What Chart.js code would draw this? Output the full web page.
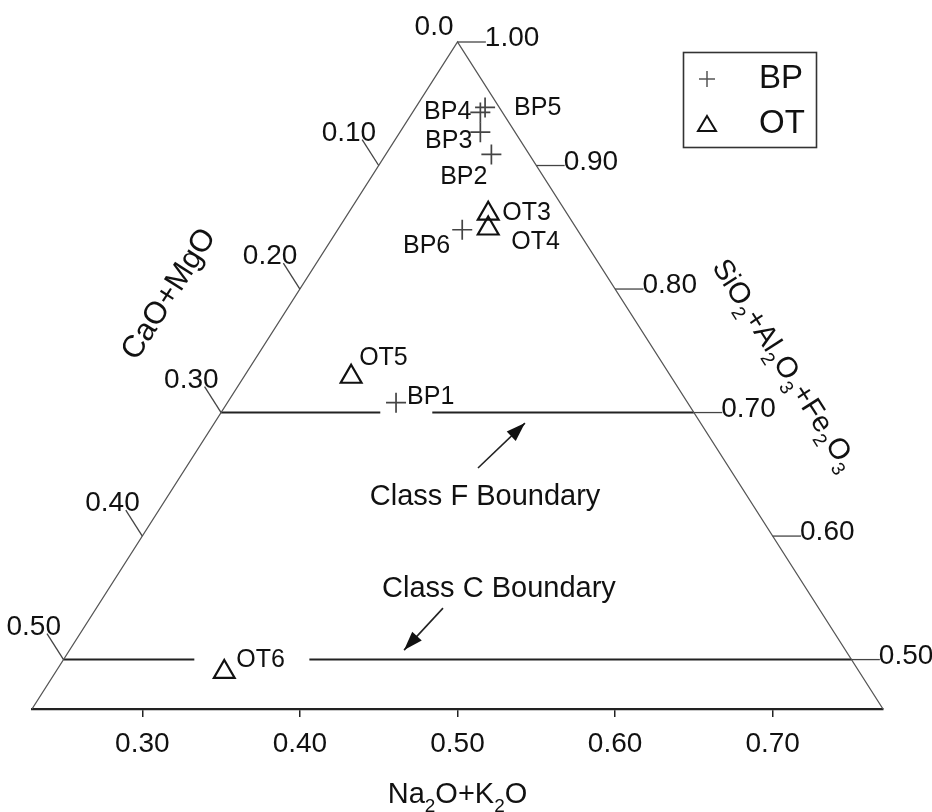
<!DOCTYPE html>
<html><head><meta charset="utf-8">
<script src="https://cdn.jsdelivr.net/npm/chart.js@4.4.0/dist/chart.umd.min.js"></script>
<style>html,body{margin:0;padding:0;background:#fff;}#wrap{width:932px;height:812px;}</style>
</head><body><div id="wrap"><canvas id="c" width="932" height="812"></canvas></div>
<script>
// ---------------- data (ternary compositions, fractions) ----------------
const bpNames   = ["BP1","BP2","BP3","BP4","BP5","BP6"];
const bpCaOMgO  = [0.185,0.024,0.022,0.014,0.009,0.073];
const bpSiAlFe  = [0.708,0.909,0.927,0.943,0.947,0.848];
const bpNaK     = [0.107,0.067,0.051,0.043,0.044,0.079];

const otNames   = ["OT3","OT4","OT5","OT6"];
const otCaOMgO  = [0.050,0.056,0.203,0.403];
const otSiAlFe  = [0.861,0.849,0.729,0.490];
const otNaK     = [0.089,0.095,0.068,0.107];

const bottomTicks     = [0.30,0.40,0.50,0.60,0.70];
const leftTicks       = [0.0,0.10,0.20,0.30,0.40,0.50];
const leftTickLabels  = ["0.0","0.10","0.20","0.30","0.40","0.50"];
const rightTicks      = [1.00,0.90,0.80,0.70,0.60,0.50];
const rightTickLabels = ["1.00","0.90","0.80","0.70","0.60","0.50"];

const classFLevel = 0.70;
const classCLevel = 0.50;
const siMin = 0.46;   // lower cut of the SiO2+Al2O3+Fe2O3 axis

// ---------------- layout / style (not data) ----------------
const FONT = '"Liberation Sans", Arial, Helvetica, sans-serif';
const TICK_L = 0.021, TICK_R = 0.018;    // tick lengths, composition units
const gapF = [0.101, 0.134];             // break in Class F line (Na2O+K2O units)
const gapC = [0.083, 0.156];             // break in Class C line
const labelPlace = {                     // pixel offsets of point labels
  BP1:[11,-6,'left'], BP2:[-4,23,'right'], BP3:[-8,9,'right'], BP4:[-9,0,'right'],
  BP5:[29,1,'left'], BP6:[-12,16,'right'],
  OT3:[14,-1,'left'], OT4:[23,14,'left'], OT5:[8,-19,'left'], OT6:[12,-12,'left']
};
const notes = [
  {text:"Class F Boundary", x:0.5175, y:0.6316, from:[0.5130,0.6551], to:[0.5428,0.6915]},
  {text:"Class C Boundary", x:0.5263, y:0.5570, from:[0.4908,0.5417], to:[0.4661,0.5077]}
];

// ---------------- projection ----------------
function proj(c, s, n) { return { x: n + s / 2, y: s }; }

const bpPoints = bpNames.map((_, i) => proj(bpCaOMgO[i], bpSiAlFe[i], bpNaK[i]));
const otPoints = otNames.map((_, i) => proj(otCaOMgO[i], otSiAlFe[i], otNaK[i]));
const apex = proj(0, 1, 0);
const leftCorner = proj(1 - siMin, siMin, 0);
const rightCorner = proj(0, siMin, 1 - siMin);

function boundary(level, gap) {
  const a = proj(1 - level - gap[0], level, gap[0]);
  return [proj(1 - level, level, 0), a, { x: a.x, y: null },
          proj(1 - level - gap[1], level, gap[1]), proj(0, level, 1 - level)];
}

function richText(ctx, segs, cx, cy, size, ang, subGap) {
  const sub = Math.round(size * 0.65);
  const w = s => { ctx.font = `${s[1] ? sub : size}px ${FONT}`; return ctx.measureText(s[0]).width + (s[1] ? subGap : 0); };
  let total = 0;
  segs.forEach(s => { total += w(s); });
  ctx.save();
  ctx.translate(cx, cy); ctx.rotate(ang);
  ctx.textAlign = 'left'; ctx.textBaseline = 'alphabetic';
  let x = -total / 2;
  const base = size * 0.36;
  segs.forEach(s => {
    const ww = w(s);
    ctx.fillText(s[0], x, s[1] ? base + size * 0.28 : base);
    x += ww;
  });
  ctx.restore();
}

const decor = {
  id: 'decor',
  afterDatasetsDraw(chart) {
    const ctx = chart.ctx, xs = chart.scales.x, ys = chart.scales.y;
    const Q = (X, S) => ({ x: xs.getPixelForValue(X), y: ys.getPixelForValue(S) });
    const P = (c, s, n) => { const p = proj(c, s, n); return Q(p.x, p.y); };
    const seg = (a, b) => { ctx.beginPath(); ctx.moveTo(a.x, a.y); ctx.lineTo(b.x, b.y); ctx.stroke(); };
    ctx.save();
    ctx.strokeStyle = '#444'; ctx.lineWidth = 1.3; ctx.fillStyle = '#111';
    ctx.font = `28px ${FONT}`;
    // left axis (CaO+MgO): ticks run along lines of constant CaO+MgO
    leftTicks.forEach((c, i) => {
      if (c === 0) {
        const a = P(0, 1, 0);
        ctx.textAlign = 'right'; ctx.textBaseline = 'alphabetic';
        ctx.fillText(leftTickLabels[i], a.x - 4, a.y - 7);
        return;
      }
      const a = P(c, 1 - c, 0), b = P(c, 1 - c + TICK_L, -TICK_L);
      seg(a, b);
      ctx.textAlign = 'right'; ctx.textBaseline = 'alphabetic';
      ctx.fillText(leftTickLabels[i], b.x + 14, b.y + 1);
    });
    // right axis (SiO2+Al2O3+Fe2O3): ticks run along lines of constant SiO2+...
    rightTicks.forEach((s, i) => {
      const a = P(0, s, 1 - s), b = P(-TICK_R, s, 1 - s + TICK_R);
      seg(a, b);
      ctx.textAlign = 'left'; ctx.textBaseline = 'alphabetic';
      ctx.fillText(rightTickLabels[i], b.x - 1, b.y + 4);
    });
    // point labels
    ctx.fillStyle = '#111';
    ctx.font = `25px ${FONT}`; ctx.textBaseline = 'middle';
    const lab = (names, pts) => names.forEach((nm, i) => {
      const p = Q(pts[i].x, pts[i].y), o = labelPlace[nm];
      ctx.textAlign = o[2]; ctx.fillText(nm, p.x + o[0], p.y + o[1]);
    });
    lab(bpNames, bpPoints); lab(otNames, otPoints);
    // notes with arrows
    notes.forEach(nt => {
      const t = Q(nt.x, nt.y);
      ctx.fillStyle = '#111';
      ctx.font = `29px ${FONT}`; ctx.textAlign = 'center'; ctx.textBaseline = 'middle';
      ctx.fillText(nt.text, t.x, t.y);
      const a = Q(nt.from[0], nt.from[1]), b = Q(nt.to[0], nt.to[1]);
      ctx.strokeStyle = '#222'; ctx.lineWidth = 1.6; seg(a, b);
      const ang = Math.atan2(b.y - a.y, b.x - a.x), L = 19, W = 6.5;
      ctx.beginPath();
      ctx.moveTo(b.x, b.y);
      ctx.lineTo(b.x - L * Math.cos(ang) + W * Math.sin(ang), b.y - L * Math.sin(ang) - W * Math.cos(ang));
      ctx.lineTo(b.x - L * Math.cos(ang) - W * Math.sin(ang), b.y - L * Math.sin(ang) + W * Math.cos(ang));
      ctx.closePath(); ctx.fill();
    });
    // axis titles
    const ap = Q(apex.x, apex.y), lc = Q(leftCorner.x, leftCorner.y), rc = Q(rightCorner.x, rightCorner.y);
    const angL = Math.atan2(ap.y - lc.y, ap.x - lc.x);
    const angR = Math.atan2(rc.y - ap.y, rc.x - ap.x);
    ctx.fillStyle = '#111';
    const tL = Q(0.3157, 0.7968);
    richText(ctx, [["CaO+MgO", 0]], tL.x, tL.y, 31, angL, 0);
    const tR = Q(0.7085, 0.7390);
    richText(ctx, [["SiO",0],["2",1],["+Al",0],["2",1],["O",0],["3",1],["+Fe",0],["2",1],["O",0],["3",1]], tR.x, tR.y, 29, angR, 1);
    const tB = { x: xs.getPixelForValue(0.5), y: chart.chartArea.bottom + 84 };
    richText(ctx, [["Na",0],["2",1],["O+K",0],["2",1],["O",0]], tB.x, tB.y, 29, 0, 0);
    // legend box
    ctx.strokeStyle = '#333'; ctx.lineWidth = 1.6;
    ctx.strokeRect(683.5, 52.5, 133, 95);
    ctx.strokeStyle = '#555'; ctx.lineWidth = 1.5;
    seg({x: 699, y: 79}, {x: 715, y: 79}); seg({x: 707, y: 71}, {x: 707, y: 87});
    ctx.strokeStyle = '#111'; ctx.lineWidth = 2;
    ctx.beginPath(); ctx.moveTo(707, 116); ctx.lineTo(716, 131); ctx.lineTo(698, 131); ctx.closePath(); ctx.stroke();
    ctx.font = `33px ${FONT}`; ctx.textAlign = 'left'; ctx.textBaseline = 'middle';
    ctx.fillText("BP", 759, 79); ctx.fillText("OT", 759, 124);
    ctx.restore();
  }
};

new Chart(document.getElementById('c'), {
  type: 'scatter',
  data: {
    datasets: [
      { data: [leftCorner, apex, rightCorner], showLine: true, borderColor: '#555', borderWidth: 1.3, pointRadius: 0, clip: false },
      { data: boundary(classFLevel, gapF), showLine: true, spanGaps: false, borderColor: '#222', borderWidth: 2, pointRadius: 0, clip: false },
      { data: boundary(classCLevel, gapC), showLine: true, spanGaps: false, borderColor: '#222', borderWidth: 2, pointRadius: 0, clip: false },
      { label: 'BP', data: bpPoints, pointStyle: 'cross', pointRadius: 10, borderColor: '#444', borderWidth: 1.7, backgroundColor: '#444', clip: false },
      { label: 'OT', data: otPoints, pointStyle: 'triangle', pointRadius: 12, borderColor: '#111', borderWidth: 2.2, backgroundColor: 'rgba(0,0,0,0)', clip: false }
    ]
  },
  options: {
    responsive: false, animation: false, devicePixelRatio: 1,
    layout: { padding: { left: 32, right: 49, top: 42, bottom: 0 } },
    plugins: { legend: { display: false }, tooltip: { enabled: false } },
    scales: {
      x: {
        type: 'linear', position: 'bottom', min: 0.23, max: 0.77,
        afterBuildTicks: s => { s.ticks = bottomTicks.map(v => ({ value: v })); },
        afterFit: s => { s.height = 103; },
        grid: { display: true, drawOnChartArea: false, drawTicks: true, tickLength: 8, color: '#222', lineWidth: 1.5 },
        border: { display: true, color: '#222', width: 2.2 },
        ticks: { color: '#111', padding: 10, font: { family: FONT, size: 28 }, callback: v => v.toFixed(2) }
      },
      y: { type: 'linear', min: siMin, max: 1.0, display: false }
    }
  },
  plugins: [decor]
});
</script>
</body></html>
